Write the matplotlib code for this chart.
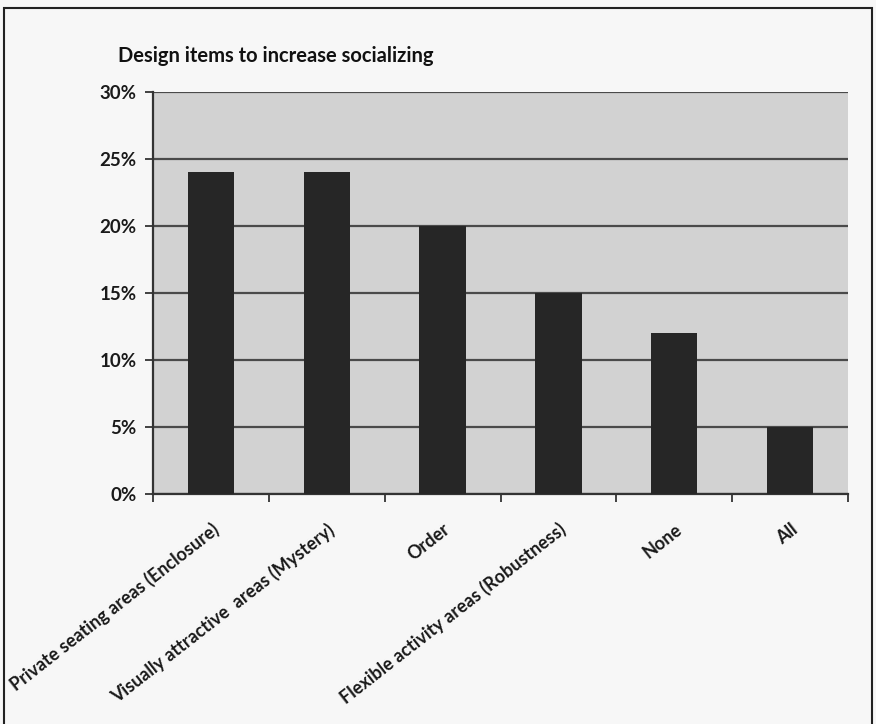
import matplotlib.pyplot as plt
from matplotlib.patches import Rectangle
from matplotlib.ticker import PercentFormatter, FixedLocator

plt.rcParams['font.family'] = ['Lato', 'DejaVu Sans']

# survey results
items = ['Private seating areas (Enclosure)',
         'Visually attractive  areas (Mystery)',
         'Order',
         'Flexible activity areas (Robustness)',
         'None',
         'All']
shares = [24, 24, 20, 15, 12, 5]   # percent of responses
y_ticks = [0, 5, 10, 15, 20, 25, 30]

fig = plt.figure(figsize=(8.76, 7.24), dpi=100, facecolor='#f7f7f7')
ax = fig.add_axes([0.1747, 0.3177, 0.7933, 0.5553])
ax.set_facecolor('#d2d2d2')

x = range(len(items))
ax.bar(x, shares, width=0.4, color='#262626', zorder=3)

ax.set_xlim(-0.5, len(items) - 0.5)
ax.set_ylim(0, 30)
ax.yaxis.set_major_locator(FixedLocator(y_ticks))
ax.yaxis.set_major_formatter(PercentFormatter(decimals=0))
ax.grid(axis='y', color='#4a4a4a', linewidth=1.6, zorder=1)

# ticks sit between the categories, labels under the bars
ax.set_xticks([i + 0.5 for i in range(-1, len(items))])
ax.set_xticklabels([])
ax.set_xticks(list(x), minor=True)
ax.set_xticklabels(items, minor=True, rotation=38, ha='right',
                   rotation_mode='anchor', fontsize=13, fontweight='bold',
                   color='#1a1a1a')
ax.tick_params(axis='x', which='minor', length=0, pad=19)
ax.tick_params(axis='x', which='major', length=6, width=1.3, color='#333333')
ax.tick_params(axis='y', length=6, width=1.3, color='#333333', labelsize=13.5,
               labelcolor='#1a1a1a', pad=6)
for lbl in ax.get_yticklabels():
    lbl.set_fontweight('bold')

for side in ['top', 'right']:
    ax.spines[side].set_visible(False)
for side in ['left', 'bottom']:
    ax.spines[side].set_color('#333333')
    ax.spines[side].set_linewidth(1.6)

fig.text(0.135, 0.915, 'Design items to increase socializing',
         fontsize=14.5, fontweight='bold', color='#111111')

# frame around the chart
fig.patches.append(Rectangle((0.004, -0.02), 0.992, 1.009, transform=fig.transFigure,
                             fill=False, edgecolor='#222222', linewidth=1.5))

fig.savefig('out.png', dpi=100, facecolor=fig.get_facecolor())
